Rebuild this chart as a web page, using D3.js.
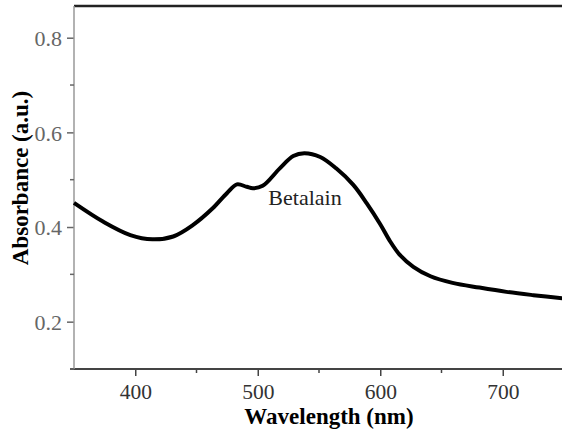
<!DOCTYPE html>
<html>
<head>
<meta charset="utf-8">
<script src="https://cdn.jsdelivr.net/npm/d3@7"></script>
<style>
  body { margin: 0; background: #fff; }
  svg { display: block; font-family: "Liberation Serif", "Times New Roman", serif; }
</style>
</head>
<body>
<svg id="chart" width="562" height="431"></svg>
<script>
// spectrum
const wavelength = [350, 374, 396, 414, 431, 447, 463, 475, 483, 491, 496, 504, 518, 529, 538, 551, 564, 578, 589, 600, 608, 616, 627, 641, 659, 681, 703, 725, 750];
const absorbance = [0.451, 0.411, 0.383, 0.374, 0.380, 0.404, 0.439, 0.472, 0.490, 0.485, 0.482, 0.487, 0.524, 0.550, 0.556, 0.548, 0.524, 0.489, 0.450, 0.406, 0.370, 0.341, 0.316, 0.296, 0.282, 0.272, 0.263, 0.256, 0.249];
const xTicks = [400, 500, 600, 700];
const yTicks = [0.2, 0.4, 0.6, 0.8];
const xMinor = [450, 550, 650];
const yMinor = [0.1, 0.3, 0.5, 0.7];

const svg = d3.select('#chart');
const plotLeft = 74, plotRight = 564, plotTop = 6, plotBottom = 369;

const x = d3.scaleLinear().domain([350, 750]).range([plotLeft, plotRight]);
const y = d3.scaleLinear().domain([0.1, 0.867]).range([plotBottom, plotTop]);

const axisGray = '#666';

// top frame line
svg.append('line')
  .attr('x1', plotLeft).attr('x2', 562)
  .attr('y1', plotTop).attr('y2', plotTop)
  .attr('stroke', '#222').attr('stroke-width', 2.5);

// x axis
const gx = svg.append('g').attr('transform', `translate(0,${plotBottom})`);
gx.call(d3.axisBottom(x).tickValues(xTicks).tickSize(7).tickFormat(d3.format('d')));
gx.select('.domain').remove();
gx.append('line').attr('x1', 70).attr('x2', 562).attr('stroke', '#444').attr('stroke-width', 2);
gx.selectAll('.tick line').attr('stroke', '#444').attr('stroke-width', 1.5);
gx.selectAll('.tick text')
  .attr('y', 30).attr('dy', 0)
  .attr('fill', '#333').attr('font-size', 21.5).attr('font-family', 'Liberation Serif');
gx.selectAll('.minor').data(xMinor).enter().append('line')
  .attr('x1', d => x(d)).attr('x2', d => x(d))
  .attr('y1', 0).attr('y2', 4)
  .attr('stroke', '#444').attr('stroke-width', 1.5);

// y axis
const gy = svg.append('g').attr('transform', `translate(${plotLeft},0)`);
gy.call(d3.axisLeft(y).tickValues(yTicks).tickSize(7).tickFormat(d3.format('.1f')));
gy.select('.domain').remove();
gy.append('line').attr('y1', plotTop).attr('y2', plotBottom).attr('stroke', '#999').attr('stroke-width', 1.5);
gy.selectAll('.tick line').attr('stroke', axisGray).attr('stroke-width', 1.5);
gy.selectAll('.tick text')
  .attr('x', -12).attr('dy', '0.36em')
  .attr('fill', '#666').attr('font-size', 22).attr('font-family', 'Liberation Serif');
gy.selectAll('.minor').data(yMinor).enter().append('line')
  .attr('x1', -4).attr('x2', 0)
  .attr('y1', d => y(d)).attr('y2', d => y(d))
  .attr('stroke', axisGray).attr('stroke-width', 1.5);

// spectrum
const line = d3.line()
  .x((d, i) => x(wavelength[i]))
  .y(d => y(d))
  .curve(d3.curveCatmullRom.alpha(0.5));

svg.append('path')
  .datum(absorbance)
  .attr('d', line)
  .attr('fill', 'none')
  .attr('stroke', '#000')
  .attr('stroke-width', 4);

// annotation
svg.append('text')
  .attr('x', 305).attr('y', 205)
  .attr('text-anchor', 'middle')
  .attr('font-size', 22)
  .attr('fill', '#222')
  .text('Betalain');

// axis titles
svg.append('text')
  .attr('x', 329).attr('y', 424)
  .attr('text-anchor', 'middle')
  .attr('font-size', 23).attr('font-weight', 'bold')
  .text('Wavelength (nm)');

svg.append('text')
  .attr('transform', 'translate(28,178) rotate(-90)')
  .attr('text-anchor', 'middle')
  .attr('font-size', 23).attr('font-weight', 'bold')
  .text('Absorbance (a.u.)');
</script>
</body>
</html>
